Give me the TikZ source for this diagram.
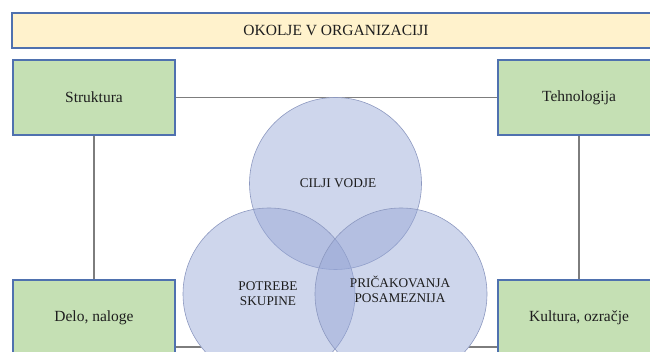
\documentclass[tikz,border=0pt]{standalone}
\usepackage{fontspec}
\setmainfont{Liberation Serif}
\definecolor{boxgreen}{RGB}{197,224,180}
\definecolor{boxedge}{RGB}{79,113,175}
\definecolor{titlefill}{RGB}{255,242,204}
\definecolor{ringfill}{RGB}{150,166,214}
\definecolor{ringedge}{RGB}{140,152,192}
\definecolor{linkgray}{RGB}{125,125,125}
\definecolor{inkgray}{RGB}{30,30,30}
\tikzset{
  area/.style={draw=boxedge, line width=1.4pt, fill=boxgreen, minimum width=162pt,
    minimum height=75pt, text=inkgray, font=\fontsize{15.5}{17}\selectfont},
  ring/.style={circle, draw=ringedge, line width=0.6pt, fill=ringfill, fill opacity=0.46,
    minimum size=172pt, inner sep=0pt},
  ringtext/.style={text=inkgray, align=center, font=\fontsize{13.3}{15}\selectfont},
  link/.style={draw=linkgray, line width=1.2pt}
}
\begin{document}
\begin{tikzpicture}[x=1pt, y=-1pt]
      \useasboundingbox (0,0) rectangle (650,352);
      \clip (0,0) rectangle (650,352);
      \draw
        (94,97.5) node[area] (struk){Struktura}
        (579,97.5) node[area] (tehn){Tehnologija}
        (94,317.5) node[area] (delo){Delo, naloge}
        (579,317.5) node[area] (kult){Kultura, ozračje};
      \begin{scope}[link]
        \draw (struk) to (tehn);
        \draw (struk) to (delo);
        \draw (tehn) to (kult);
        \draw (delo.east |- 0,347) to (kult.west |- 0,347);
      \end{scope}
      % three overlapping circles
      \coordinate (c1) at (335.5,183.5);
      \coordinate (c2) at (269,294);
      \coordinate (c3) at (401,294);
      \foreach \c in {c1,c2,c3}
        \fill[white] (\c) circle (86pt);
      \node[ring] (cilji) at (c1) {};
      \node[ring] (skup) at (c2) {};
      \node[ring] (posam) at (c3) {};
      \node[ringtext] (ciljit) at (338,183) {CILJI VODJE};
      \node[ringtext] (skupt) at (268,294) {POTREBE\\SKUPINE};
      \node[ringtext] (posamt) at (400,289) {PRIČAKOVANJA\\POSAMEZNIJA};
      % boxes again over the links
      \draw
        (94,97.5) node[area] {Struktura}
        (579,97.5) node[area] {Tehnologija}
        (94,317.5) node[area] {Delo, naloge}
        (579,317.5) node[area] {Kultura, ozračje};
      \node[draw=boxedge, line width=1.4pt, fill=titlefill, minimum width=648pt, minimum height=35pt,
        text=inkgray, font=\fontsize{15.5}{17}\selectfont] (okolje) at (336,30.5) {OKOLJE V ORGANIZACIJI};
    \end{tikzpicture}
\end{document}
